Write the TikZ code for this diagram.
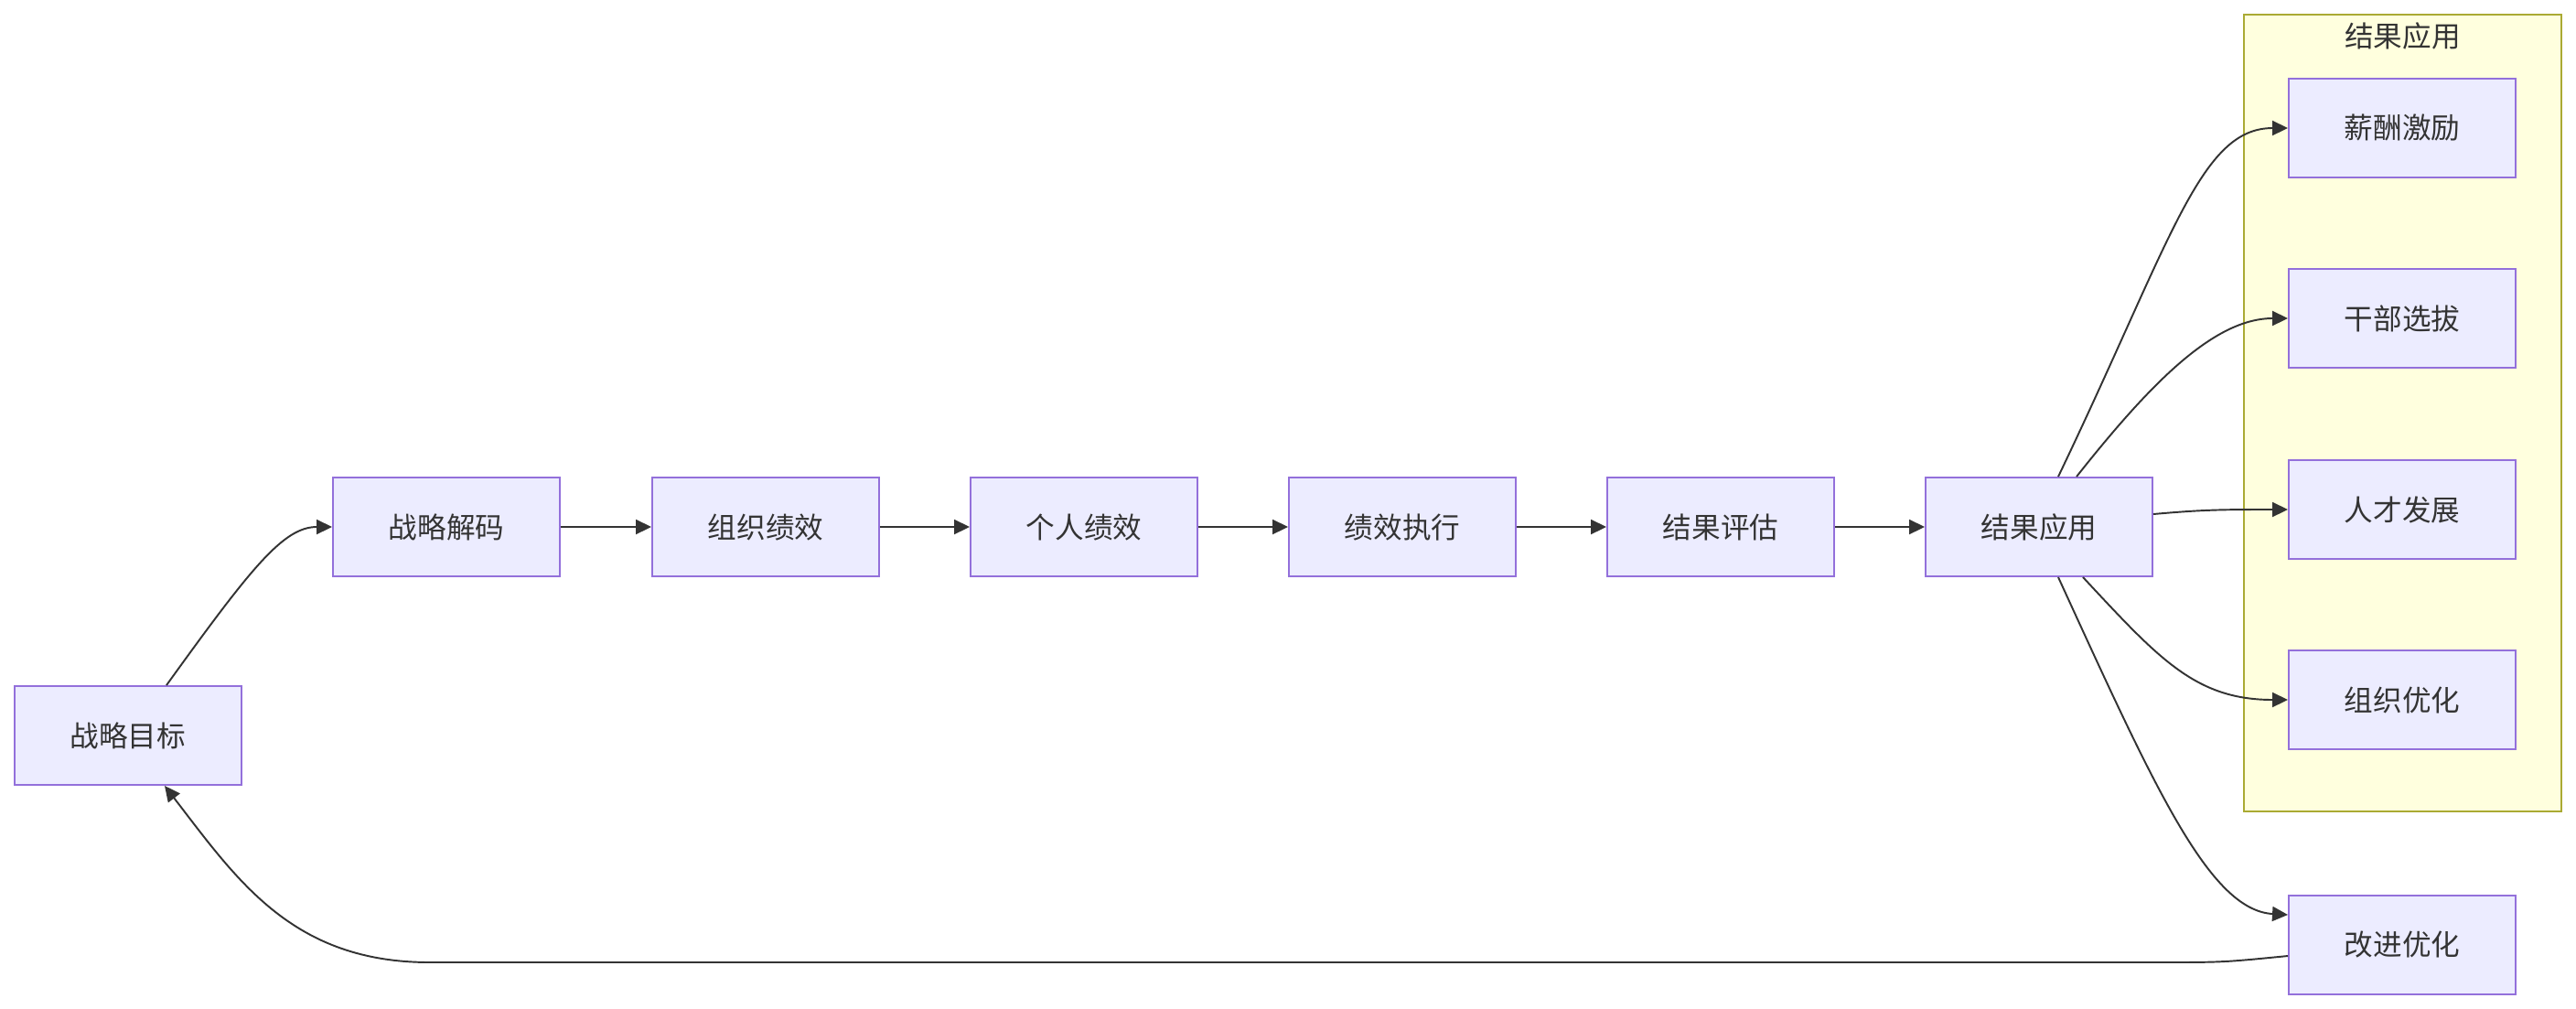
\documentclass[tikz,border=0pt]{standalone}
\usepackage{fontspec}
\setmainfont{Noto Sans CJK SC}
\usetikzlibrary{arrows.meta}
\definecolor{boxfill}{HTML}{ECECFF}
\definecolor{boxline}{HTML}{9370DB}
\definecolor{grpfill}{HTML}{FFFFDE}
\definecolor{grpline}{HTML}{AAAA33}
\definecolor{ink}{HTML}{333333}
\begin{document}
\begin{tikzpicture}[
  font=\fontsize{9}{11}\selectfont, text=ink,
  stage/.style={draw=boxline, fill=boxfill, line width=0.55pt,
    minimum width=2.48cm, minimum height=1.08cm, inner sep=0pt},
  cluster/.style={draw=grpline, fill=grpfill, line width=0.6pt,
    minimum width=3.47cm, minimum height=8.71cm, inner sep=0pt},
  edge/.style={draw=ink, line width=0.55pt, -{Triangle[length=1.7mm,width=1.6mm]}}]
\useasboundingbox (0,0) rectangle (28.16,-11.02);

\node[cluster] (grp) at (26.265,-4.515) {};
\node (grptitle) at (26.265,-0.39) {结果应用};

\node[stage] (goal) at (1.40,-8.04) {战略目标};
\node[stage] (decode) at (4.88,-5.76) {战略解码};
\node[stage] (orgperf) at (8.37,-5.76) {组织绩效};
\node[stage] (indperf) at (11.85,-5.76) {个人绩效};
\node[stage] (exec) at (15.33,-5.76) {绩效执行};
\node[stage] (assess) at (18.81,-5.76) {结果评估};
\node[stage] (apply) at (22.29,-5.76) {结果应用};

\node[stage] (pay) at (26.26,-1.40) {薪酬激励};
\node[stage] (cadre) at (26.26,-3.48) {干部选拔};
\node[stage] (talent) at (26.26,-5.57) {人才发展};
\node[stage] (orgopt) at (26.26,-7.65) {组织优化};
\node[stage] (improve) at (26.26,-10.33) {改进优化};

\draw[edge] ([xshift=4.2mm]goal.north) .. controls (2.75,-6.2) and (3.1,-5.76) .. (decode.west);
\draw[edge] (decode) -- (orgperf);
\draw[edge] (orgperf) -- (indperf);
\draw[edge] (indperf) -- (exec);
\draw[edge] (exec) -- (assess);
\draw[edge] (assess) -- (apply);

\draw[edge] ([xshift=2.1mm]apply.north) .. controls (23.75,-2.6) and (24.05,-1.40) .. (pay.west);
\draw[edge] ([xshift=4.1mm]apply.north) .. controls (23.5,-4.2) and (24.2,-3.48) .. (cadre.west);
\draw[edge] ([yshift=1.4mm]apply.east) .. controls (24.1,-5.57) and (24.3,-5.57) .. (talent.west);
\draw[edge] ([xshift=4.8mm]apply.south) .. controls (23.6,-7.2) and (24.0,-7.65) .. (orgopt.west);
\draw[edge] ([xshift=2.1mm]apply.south) .. controls (23.55,-8.6) and (24.15,-9.95) .. ([yshift=3.3mm]improve.west);

\draw[edge] ([yshift=-1.2mm]improve.west) .. controls (24.3,-10.52) .. (23.6,-10.52)
  -- (4.7,-10.52) .. controls (3.2,-10.52) and (2.6,-9.63) .. ([xshift=4mm]goal.south);
\end{tikzpicture}
\end{document}
